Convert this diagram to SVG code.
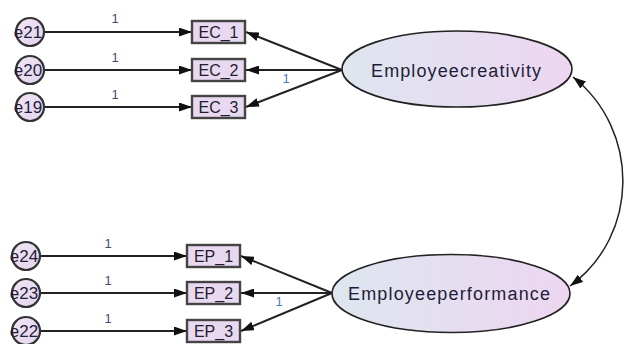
<svg xmlns="http://www.w3.org/2000/svg" width="625" height="344" viewBox="0 0 625 344">
<defs>
<linearGradient id="gEll" x1="0" y1="0" x2="1" y2="0">
<stop offset="0" stop-color="#dee6ef"/>
<stop offset="1" stop-color="#edd6f1"/>
</linearGradient>
<linearGradient id="gCir" x1="0" y1="0" x2="1" y2="1">
<stop offset="0" stop-color="#f0e6f4"/>
<stop offset="1" stop-color="#e4d2ee"/>
</linearGradient>
<marker id="arr" viewBox="0 0 13 9" refX="13" refY="4.5" markerWidth="13" markerHeight="9" markerUnits="userSpaceOnUse" orient="auto-start-reverse">
<path d="M0,0 L13,4.5 L0,9 Z" fill="#111"/>
</marker>
</defs>
<style>
.lat{fill:url(#gEll);stroke:#222;stroke-width:1.6}
.err{fill:url(#gCir);stroke:#333;stroke-width:2.2}
.obs{fill:#e8d9f0;stroke:#444;stroke-width:2.4}
.t{font-family:"Liberation Sans",Arial,sans-serif;font-size:16px;fill:#1e1e2e}
.lt{font-family:"Liberation Sans",Arial,sans-serif;font-size:18px;fill:#1e1e3a}
.et{font-family:"Liberation Sans",Arial,sans-serif;font-size:17px;fill:#1e1e3a}
.w{font-family:"Liberation Sans",Arial,sans-serif;font-size:13px;fill:#4a4a70}
.wb{font-family:"Liberation Sans",Arial,sans-serif;font-size:13px;fill:#4c7cc0}
.c{fill:none;stroke:#222;stroke-width:2}
.cv{fill:none;stroke:#222;stroke-width:1.5}
</style>
<g id="connectors">
<line class="c" x1="44" y1="32" x2="192" y2="32" marker-end="url(#arr)"/>
<line class="c" x1="44" y1="70" x2="192" y2="70" marker-end="url(#arr)"/>
<line class="c" x1="44" y1="107" x2="192" y2="107" marker-end="url(#arr)"/>
<line class="c" x1="342" y1="70" x2="246" y2="32" marker-end="url(#arr)"/>
<line class="c" x1="342" y1="70" x2="246" y2="70" marker-end="url(#arr)"/>
<line class="c" x1="342" y1="70" x2="246" y2="107" marker-end="url(#arr)"/>
<line class="c" x1="41" y1="256" x2="187" y2="256" marker-end="url(#arr)"/>
<line class="c" x1="41" y1="293" x2="187" y2="293" marker-end="url(#arr)"/>
<line class="c" x1="41" y1="331" x2="187" y2="331" marker-end="url(#arr)"/>
<line class="c" x1="332" y1="293" x2="241" y2="256" marker-end="url(#arr)"/>
<line class="c" x1="332" y1="293" x2="241" y2="293" marker-end="url(#arr)"/>
<line class="c" x1="332" y1="293" x2="241" y2="331" marker-end="url(#arr)"/>
<path class="cv" d="M573,77 C640,130 640,235 570,286" marker-start="url(#arr)" marker-end="url(#arr)"/>
<text class="w" x="115" y="23" text-anchor="middle">1</text>
<text class="w" x="115" y="62" text-anchor="middle">1</text>
<text class="w" x="115" y="99" text-anchor="middle">1</text>
<text class="wb" x="286" y="83" text-anchor="middle">1</text>
<text class="w" x="108" y="248" text-anchor="middle">1</text>
<text class="w" x="108" y="285" text-anchor="middle">1</text>
<text class="w" x="108" y="323" text-anchor="middle">1</text>
<text class="wb" x="279" y="306" text-anchor="middle">1</text>
</g>
<g id="e21"><circle class="err" cx="30" cy="32" r="14"/><text class="et" x="28" y="38" text-anchor="middle">e21</text></g>
<g id="e20"><circle class="err" cx="30" cy="70" r="14"/><text class="et" x="28" y="76" text-anchor="middle">e20</text></g>
<g id="e19"><circle class="err" cx="30" cy="107" r="14"/><text class="et" x="28" y="113" text-anchor="middle">e19</text></g>
<g id="e24"><circle class="err" cx="26" cy="256" r="14"/><text class="et" x="24" y="262" text-anchor="middle">e24</text></g>
<g id="e23"><circle class="err" cx="26" cy="293" r="14"/><text class="et" x="24" y="299" text-anchor="middle">e23</text></g>
<g id="e22"><circle class="err" cx="26" cy="331" r="14"/><text class="et" x="24" y="337" text-anchor="middle">e22</text></g>
<g id="EC_1"><rect class="obs" x="192" y="21" width="53" height="22"/><text class="t" x="218.5" y="38" text-anchor="middle">EC_1</text></g>
<g id="EC_2"><rect class="obs" x="192" y="59" width="53" height="22"/><text class="t" x="218.5" y="76" text-anchor="middle">EC_2</text></g>
<g id="EC_3"><rect class="obs" x="192" y="96" width="53" height="22"/><text class="t" x="218.5" y="113" text-anchor="middle">EC_3</text></g>
<g id="EP_1"><rect class="obs" x="187" y="245" width="53" height="22"/><text class="t" x="213.5" y="262" text-anchor="middle">EP_1</text></g>
<g id="EP_2"><rect class="obs" x="187" y="282" width="53" height="22"/><text class="t" x="213.5" y="299" text-anchor="middle">EP_2</text></g>
<g id="EP_3"><rect class="obs" x="187" y="320" width="53" height="22"/><text class="t" x="213.5" y="337" text-anchor="middle">EP_3</text></g>
<g id="Employeecreativity"><ellipse class="lat" cx="457" cy="69" rx="115" ry="38"/><text class="lt" x="456" y="77" text-anchor="middle" textLength="170" lengthAdjust="spacing">Employeecreativity</text></g>
<g id="Employeeperformance"><ellipse class="lat" cx="451" cy="293.5" rx="119" ry="39"/><text class="lt" x="449" y="300" text-anchor="middle" textLength="202" lengthAdjust="spacing">Employeeperformance</text></g>
</svg>
